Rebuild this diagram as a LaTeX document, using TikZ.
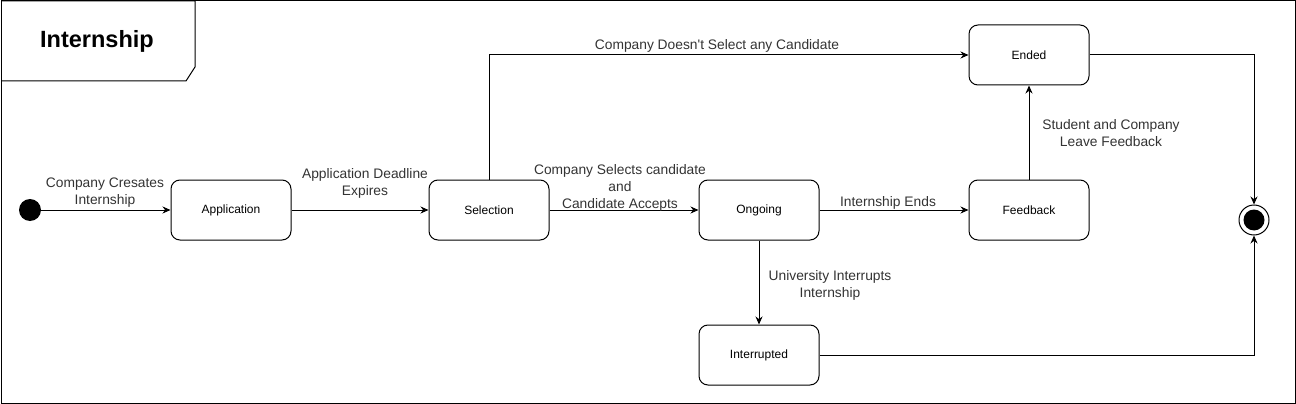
\documentclass[tikz,border=0pt]{standalone}
\usepackage{fontspec}
\setmainfont{Liberation Sans}
\usetikzlibrary{arrows.meta}
\tikzset{
  stbox/.style={draw, line width=1pt, rounded corners=9pt, minimum width=120pt, minimum height=60pt, inner sep=0pt, font=\fontsize{12}{14}\selectfont},
  lbl/.style={align=center, inner sep=0pt, font=\fontsize{13.8}{17}\selectfont, text=black!80},
  arr/.style={line width=1pt, -{Stealth[length=8pt,width=7pt]}}
}
\begin{document}
\begin{tikzpicture}[x=1pt,y=-1pt]
\useasboundingbox (0,0) rectangle (1296,404);
\draw[line width=1pt] (1,1) rectangle (1295,403);
\draw[line width=1pt] (1,1) -- (195,1) -- (195,67) -- (186,81) -- (1,81);
\node[font=\fontsize{23.5}{26}\selectfont\bfseries] (title) at (97,41) {Internship};

\node[circle, fill, minimum size=22pt, inner sep=0pt] (start) at (30,210) {};
\node[stbox] (app) at (231,210) {Application};
\node[stbox] (sel) at (489,210) {Selection};
\node[stbox] (ong) at (759,210) {Ongoing};
\node[stbox] (fb) at (1029,210) {Feedback};
\node[stbox] (ended) at (1029,55) {Ended};
\node[stbox] (intr) at (759,355) {Interrupted};
\node[circle, draw, line width=1pt, minimum size=30pt, inner sep=0pt] (end) at (1254,220) {};
\node[circle, fill, minimum size=21pt, inner sep=0pt] (endin) at (1254,220) {};

\draw[arr] (start) -- (app);
\draw[arr] (app) -- (sel);
\draw[arr] (sel) -- (ong);
\draw[arr] (ong) -- (fb);
\draw[arr] (fb) -- (ended);
\draw[arr] (sel.north) |- (ended.west);
\draw[arr] (ended.east) -| (end.north);
\draw[arr] (ong.south) -- (intr.north);
\draw[arr] (intr.east) -| (end.south);

\node[lbl] (l1) at (105,192.5) {Company Cresates\\Internship};
\node[lbl] (l2) at (365,183.5) {Application Deadline\\Expires};
\node[lbl] (l3) at (620,187.5) {Company Selects candidate\\and\\Candidate Accepts};
\node[lbl] (l4) at (888,202.5) {Internship Ends};
\node[lbl] (l5) at (717,45.5) {Company Doesn\textquotesingle t Select any Candidate};
\node[lbl] (l6) at (1111,133.5) {Student and Company\\Leave Feedback};
\node[lbl] (l7) at (830,285.5) {University Interrupts\\Internship};
\end{tikzpicture}
\end{document}
